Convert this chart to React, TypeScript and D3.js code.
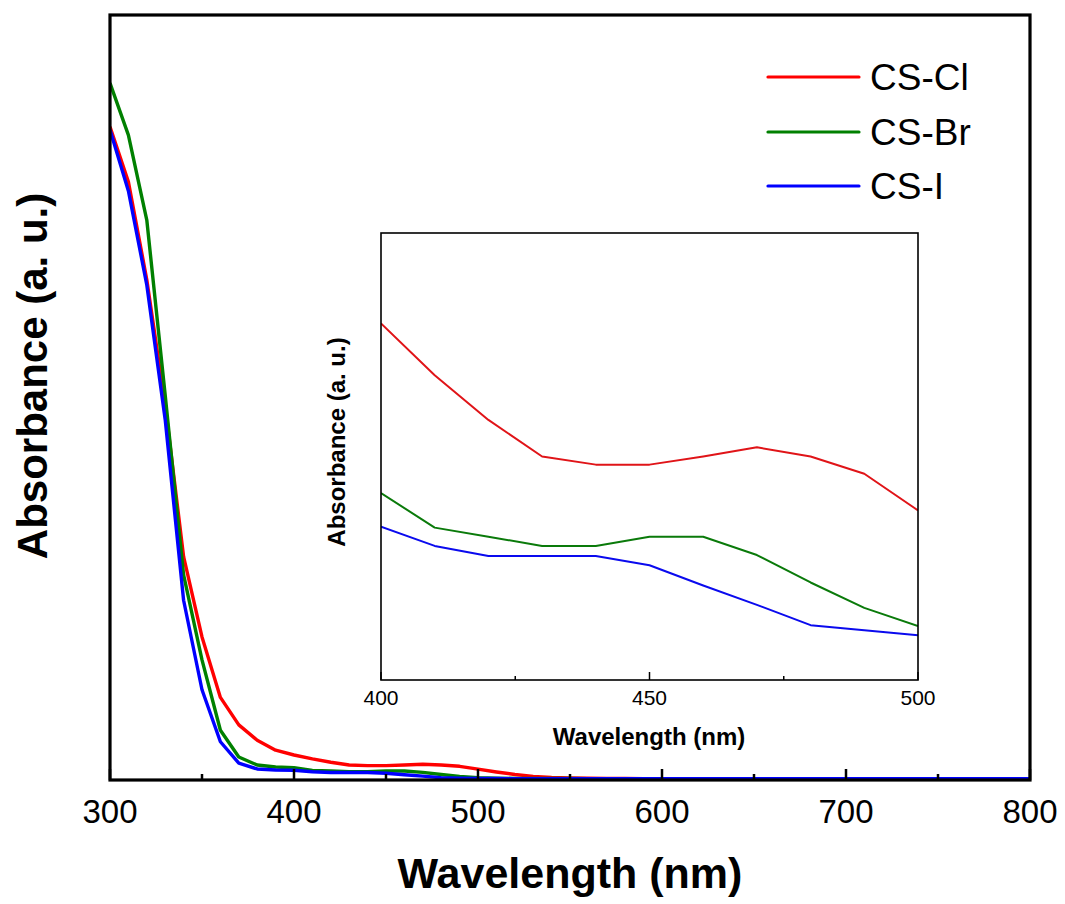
import React from "react";
import * as d3 from "d3";

// Wavelength grid (nm)
const wavelengths = [
  300, 310, 320, 330, 340, 350, 360, 370, 380, 390,
  400, 410, 420, 430, 440, 450, 460, 470, 480, 490,
  500, 510, 520, 530, 540, 550, 560, 570, 580, 590,
  600, 610, 620, 630, 640, 650, 660, 670, 680, 690,
  700, 710, 720, 730, 740, 750, 760, 770, 780, 790, 800,
];

// Absorbance (a. u.) per sample
const csCl = [
  0.854, 0.782, 0.654, 0.490, 0.292, 0.187, 0.108, 0.072, 0.052, 0.039,
  0.0327, 0.0276, 0.0232, 0.0196, 0.0188, 0.0188, 0.0196, 0.0205, 0.0196, 0.0179,
  0.0143, 0.0105, 0.0072, 0.0048, 0.0034, 0.0026, 0.0022, 0.0020, 0.0019, 0.0018,
  0.0018, 0.0018, 0.0017, 0.0017, 0.0017, 0.0017, 0.0016, 0.0016, 0.0016, 0.0016,
  0.0016, 0.0016, 0.0015, 0.0015, 0.0015, 0.0015, 0.0015, 0.0015, 0.0015, 0.0015, 0.0015,
];
const csBr = [
  0.911, 0.843, 0.732, 0.503, 0.268, 0.157, 0.065, 0.030, 0.0196, 0.0170,
  0.0160, 0.0126, 0.0117, 0.0108, 0.0108, 0.0117, 0.0117, 0.0099, 0.0072, 0.0047,
  0.0029, 0.0024, 0.0021, 0.0020, 0.0019, 0.0019, 0.0018, 0.0018, 0.0018, 0.0018,
  0.0018, 0.0017, 0.0017, 0.0017, 0.0017, 0.0017, 0.0017, 0.0017, 0.0017, 0.0017,
  0.0017, 0.0017, 0.0017, 0.0017, 0.0017, 0.0017, 0.0017, 0.0017, 0.0017, 0.0017, 0.0017,
];
const csI = [
  0.850, 0.770, 0.647, 0.471, 0.235, 0.118, 0.050, 0.022, 0.0144, 0.0131,
  0.0127, 0.0108, 0.0098, 0.0098, 0.0098, 0.0089, 0.0069, 0.0050, 0.0030, 0.0025,
  0.0020, 0.0019, 0.0018, 0.0018, 0.0017, 0.0017, 0.0017, 0.0017, 0.0017, 0.0016,
  0.0016, 0.0016, 0.0016, 0.0016, 0.0016, 0.0016, 0.0016, 0.0016, 0.0016, 0.0016,
  0.0016, 0.0016, 0.0016, 0.0016, 0.0016, 0.0016, 0.0016, 0.0016, 0.0016, 0.0016, 0.0016,
];

const seriesNames = ["CS-Cl", "CS-Br", "CS-I"];
const seriesColors = ["#ff0000", "#008000", "#0000ff"];
const insetColors = ["#e01418", "#0a7a0a", "#0a0aee"];
const seriesValues = [csCl, csBr, csI];

const mainTicks = [300, 400, 500, 600, 700, 800];
const mainMinorTicks = [350, 450, 550, 650, 750];
const insetTicks = [400, 450, 500];
const insetMinorTicks = [425, 475];

const FONT = "Arial, 'Liberation Sans', Helvetica, sans-serif";

export default function App() {
  const W = 1065;
  const H = 904;

  // main panel
  const m = { left: 110, right: 1030, top: 15, bottom: 780 };
  const x = d3.scaleLinear().domain([300, 800]).range([m.left, m.right]);
  const y = d3.scaleLinear().domain([0, 1.0]).range([m.bottom, m.top]);

  // inset panel (400–500 nm zoom)
  const ins = { left: 381, right: 918, top: 233, bottom: 680 };
  const xi = d3.scaleLinear().domain([400, 500]).range([ins.left, ins.right]);
  const yi = d3.scaleLinear().domain([-0.0024, 0.0416]).range([ins.bottom, ins.top]);

  const mainLine = (vals: number[]) =>
    d3
      .line<number>()
      .x((_, i) => x(wavelengths[i]))
      .y((v) => y(v))
      .curve(d3.curveLinear)(vals) || "";

  const insetLine = (vals: number[]) => {
    const idx = wavelengths
      .map((w, i) => i)
      .filter((i) => wavelengths[i] >= 400 && wavelengths[i] <= 500);
    return (
      d3
        .line<number>()
        .x((i) => xi(wavelengths[i]))
        .y((i) => yi(vals[i]))(idx) || ""
    );
  };

  const legendY = [77, 132, 186];

  return (
    <svg
      width={W}
      height={H}
      style={{ position: "absolute", left: 0, top: 0, background: "#fff" }}
      fontFamily={FONT}
    >
      <defs>
        <clipPath id="mainClip">
          <rect x={m.left} y={m.top} width={m.right - m.left} height={m.bottom - m.top} />
        </clipPath>
        <clipPath id="insetClip">
          <rect x={ins.left} y={ins.top} width={ins.right - ins.left} height={ins.bottom - ins.top} />
        </clipPath>
      </defs>

      {/* main curves */}
      <g clipPath="url(#mainClip)">
        {seriesValues.map((vals, k) => (
          <path
            key={k}
            d={mainLine(vals)}
            fill="none"
            stroke={seriesColors[k]}
            strokeWidth={3.4}
            strokeLinejoin="round"
          />
        ))}
      </g>

      {/* main ticks (inward) */}
      {mainTicks.map((t) => (
        <line key={"M" + t} x1={x(t)} x2={x(t)} y1={m.bottom} y2={m.bottom - 11} stroke="#000" strokeWidth={2.5} />
      ))}
      {mainMinorTicks.map((t) => (
        <line key={"m" + t} x1={x(t)} x2={x(t)} y1={m.bottom} y2={m.bottom - 6} stroke="#000" strokeWidth={2.5} />
      ))}

      {/* main frame */}
      <rect
        x={m.left}
        y={m.top}
        width={m.right - m.left}
        height={m.bottom - m.top}
        fill="none"
        stroke="#000"
        strokeWidth={3.2}
      />

      {/* main tick labels */}
      {mainTicks.map((t) => (
        <text key={"L" + t} x={x(t)} y={823} textAnchor="middle" fontSize={33} fill="#000">
          {t}
        </text>
      ))}

      {/* main axis titles */}
      <text x={570} y={888} textAnchor="middle" fontSize={43} fontWeight="bold" fill="#000">
        Wavelength (nm)
      </text>
      <text
        transform="translate(47,376) rotate(-90)"
        textAnchor="middle"
        fontSize={42}
        fontWeight="bold"
        fill="#000"
      >
        Absorbance (a. u.)
      </text>

      {/* legend */}
      {seriesNames.map((name, k) => (
        <g key={name}>
          <line
            x1={768}
            x2={859}
            y1={legendY[k]}
            y2={legendY[k]}
            stroke={seriesColors[k]}
            strokeWidth={3.2}
            strokeLinecap="round"
          />
          <text x={870} y={legendY[k] + 13} fontSize={37} fill="#000">
            {name}
          </text>
        </g>
      ))}

      {/* inset */}
      <rect
        x={ins.left}
        y={ins.top}
        width={ins.right - ins.left}
        height={ins.bottom - ins.top}
        fill="#fff"
        stroke="none"
      />
      <g clipPath="url(#insetClip)">
        {seriesValues.map((vals, k) => (
          <path
            key={k}
            d={insetLine(vals)}
            fill="none"
            stroke={insetColors[k]}
            strokeWidth={2}
            strokeLinejoin="round"
          />
        ))}
      </g>
      {insetTicks.map((t) => (
        <line key={"IM" + t} x1={xi(t)} x2={xi(t)} y1={ins.bottom} y2={ins.bottom - 8} stroke="#000" strokeWidth={1.5} />
      ))}
      {insetMinorTicks.map((t) => (
        <line key={"Im" + t} x1={xi(t)} x2={xi(t)} y1={ins.bottom} y2={ins.bottom - 4} stroke="#000" strokeWidth={1.5} />
      ))}
      <rect
        x={ins.left}
        y={ins.top}
        width={ins.right - ins.left}
        height={ins.bottom - ins.top}
        fill="none"
        stroke="#000"
        strokeWidth={1.6}
      />
      {insetTicks.map((t) => (
        <text key={"IL" + t} x={xi(t)} y={705} textAnchor="middle" fontSize={21} fill="#000">
          {t}
        </text>
      ))}
      <text x={649} y={745} textAnchor="middle" fontSize={24} fontWeight="bold" fill="#000">
        Wavelength (nm)
      </text>
      <text
        transform="translate(345,442) rotate(-90)"
        textAnchor="middle"
        fontSize={24}
        fontWeight="bold"
        fill="#000"
      >
        Absorbance (a. u.)
      </text>
    </svg>
  );
}
